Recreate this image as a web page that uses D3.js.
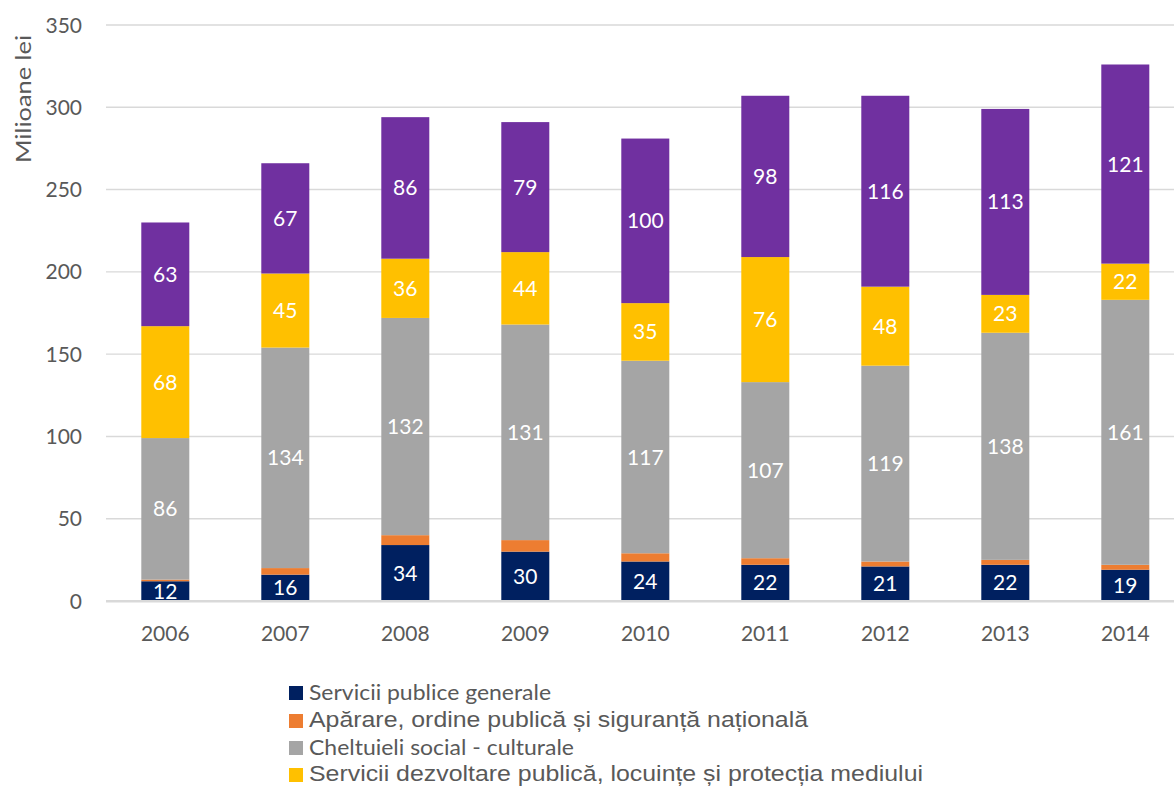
<!DOCTYPE html>
<html>
<head>
<meta charset="utf-8">
<script src="https://cdn.jsdelivr.net/npm/d3@7/dist/d3.min.js"></script>
<style>
  html, body { margin: 0; padding: 0; background: #fff; }
  svg { display: block; }
</style>
</head>
<body>
<svg id="chart" width="1174" height="787"></svg>
<script>
// Budget expenditure by category, million lei
const years = ["2006", "2007", "2008", "2009", "2010", "2011", "2012", "2013", "2014"];
const seriesNames = [
  "Servicii publice generale",
  "Apărare, ordine publică și siguranță națională",
  "Cheltuieli social - culturale",
  "Servicii dezvoltare publică, locuințe și protecția mediului",
  "Acțiuni economice"
];
const serviciiPublice   = [12, 16, 34, 30, 24, 22, 21, 22, 19];
const aparare           = [1, 4, 6, 7, 5, 4, 3, 3, 3];
const socialCulturale   = [86, 134, 132, 131, 117, 107, 119, 138, 161];
const dezvoltarePublica = [68, 45, 36, 44, 35, 76, 48, 23, 22];
const actiuniEconomice  = [63, 67, 86, 79, 100, 98, 116, 113, 121];
const yTicks = [0, 50, 100, 150, 200, 250, 300, 350];

const seriesValues = [serviciiPublice, aparare, socialCulturale, dezvoltarePublica, actiuniEconomice];
const colors = ["#002060", "#ED7D31", "#A5A5A5", "#FFC000", "#7030A0"];
const labelled = [true, false, true, true, true];

const keys = seriesNames.map((_, i) => "s" + i);
const rows = years.map((y, j) => {
  const r = { year: y };
  keys.forEach((k, i) => { r[k] = seriesValues[i][j]; });
  return r;
});
const stacked = d3.stack().keys(keys)(rows);

const svg = d3.select("#chart");
const numFont = "Lato, 'Open Sans', sans-serif";

const x = d3.scaleBand().domain(years).range([105.3, 1185.3]).paddingInner(0.6).paddingOuter(0.3);
const y = d3.scaleLinear().domain([0, 350]).range([601, 25]);

// gridlines
svg.append("g").selectAll("line").data(yTicks.filter(t => t > 0)).join("line")
  .attr("x1", 106).attr("x2", 1174)
  .attr("y1", d => y(d)).attr("y2", d => y(d))
  .attr("stroke", "#d9d9d9").attr("stroke-width", 1.4);

// y tick labels
svg.append("g").selectAll("text").data(yTicks).join("text")
  .attr("x", 82).attr("y", d => y(d)).attr("dy", "0.36em")
  .attr("text-anchor", "end")
  .attr("font-family", numFont).attr("font-size", 21).attr("fill", "#595959")
  .text(d => d);

// y axis title
svg.append("text")
  .attr("transform", "translate(31,99) rotate(-90)")
  .attr("text-anchor", "middle")
  .attr("font-family", numFont).attr("font-size", 22).attr("fill", "#595959")
  .attr("textLength", 128).attr("lengthAdjust", "spacingAndGlyphs")
  .text("Milioane lei");

// stacked bars
const groups = svg.append("g").selectAll("g").data(stacked).join("g")
  .attr("fill", (d, i) => colors[i]);
groups.selectAll("rect").data(d => d).join("rect")
  .attr("x", d => x(d.data.year))
  .attr("width", x.bandwidth())
  .attr("y", d => y(d[1]))
  .attr("height", d => y(d[0]) - y(d[1]));

// value labels
const labelGroups = svg.append("g").selectAll("g").data(stacked.filter((s, i) => labelled[i])).join("g");
labelGroups.selectAll("text").data(d => d).join("text")
  .attr("x", d => x(d.data.year) + x.bandwidth() / 2)
  .attr("y", d => (y(d[0]) + y(d[1])) / 2)
  .attr("dy", "0.36em")
  .attr("text-anchor", "middle")
  .attr("font-family", numFont).attr("font-size", 21).attr("fill", "#fff")
  .text(d => Math.round(d[1] - d[0]));

// baseline
svg.append("line")
  .attr("x1", 106).attr("x2", 1174)
  .attr("y1", y(0) + 0.2).attr("y2", y(0) + 0.2)
  .attr("stroke", "#d9d9d9").attr("stroke-width", 2.4);

// x tick labels
svg.append("g").selectAll("text").data(years).join("text")
  .attr("x", d => x(d) + x.bandwidth() / 2)
  .attr("y", 633).attr("dy", "0.36em")
  .attr("text-anchor", "middle")
  .attr("font-family", numFont).attr("font-size", 21).attr("fill", "#595959")
  .text(d => d);

// legend
const legendItems = [
  { top: 686, base: 700, font: numFont, size: 21, len: 242 },
  { top: 714, base: 727, font: "'Liberation Sans', Arial, sans-serif", size: 22, len: 499 },
  { top: 741, base: 755, font: numFont, size: 21, len: 265 },
  { top: 768, base: 781, font: "'Liberation Sans', Arial, sans-serif", size: 22, len: 614 }
];
const legend = svg.append("g").selectAll("g").data(legendItems).join("g");
legend.append("rect")
  .attr("x", 289).attr("y", d => d.top).attr("width", 14).attr("height", 14)
  .attr("fill", (d, i) => colors[i]);
legend.append("text")
  .attr("x", 309).attr("y", d => d.base)
  .attr("font-family", d => d.font).attr("font-size", d => d.size)
  .attr("fill", "#595959")
  .attr("textLength", d => d.len).attr("lengthAdjust", "spacingAndGlyphs")
  .text((d, i) => seriesNames[i]);
</script>
</body>
</html>
